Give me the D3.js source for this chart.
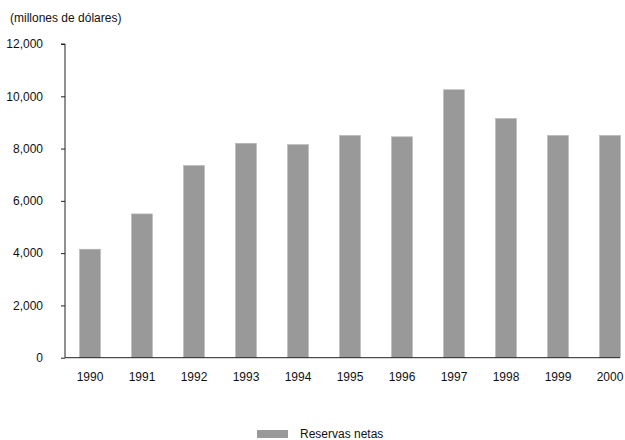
<!DOCTYPE html>
<html><head><meta charset="utf-8">
<script src="https://cdn.jsdelivr.net/npm/d3@7"></script>
<style>
body{margin:0;background:#fff;}
text{font-family:"Liberation Sans Narrow","Liberation Sans",Arial,sans-serif;fill:#111;}
</style></head>
<body><svg id="c" width="625" height="440"></svg>
<script>
const years = ["1990","1991","1992","1993","1994","1995","1996","1997","1998","1999","2000"];
const reservas = [4150,5500,7350,8200,8150,8500,8450,10250,9150,8500,8500];
const yTicks = [0,2000,4000,6000,8000,10000,12000];
const seriesName = "Reservas netas";
const unitLabel = "(millones de dólares)";

const svg = d3.select("#c");
const x = d3.scaleBand().domain(years).range([64,636]).paddingInner(0.6).paddingOuter(0.3);
const y = d3.scaleLinear().domain([0,12000]).range([357.7,44]);
const fmt = d3.format(",");

// bars
svg.append("g").selectAll("rect").data(years).join("rect")
  .attr("x", d => x(d)).attr("width", x.bandwidth())
  .attr("y", (d,i) => y(reservas[i])).attr("height", (d,i) => y(0) - y(reservas[i]))
  .attr("fill", "#999999").attr("stroke", "#b5b5b5").attr("stroke-width", 0.6);

// y axis
const ya = svg.append("g").attr("transform","translate(65,0)")
  .call(d3.axisLeft(y).tickValues(yTicks).tickFormat(fmt).tickSize(4).tickPadding(18));
ya.select(".domain").attr("stroke","#222").attr("d", `M-4,${y(12000)}H0V${y(0)}`);
ya.selectAll(".tick line").attr("stroke","#222");
ya.selectAll("text").attr("font-size","12px").style("font-family",'"Liberation Sans Narrow","Liberation Sans",Arial,sans-serif');

// x axis
const xa = svg.append("g").attr("transform",`translate(0,${y(0)})`)
  .call(d3.axisBottom(x).tickSize(0).tickPadding(15));
xa.select(".domain").attr("stroke","#222").attr("d","M65,0H620");
xa.selectAll("text").attr("font-size","12px").style("font-family",'"Liberation Sans Narrow","Liberation Sans",Arial,sans-serif');

// unit label
svg.append("text").attr("x",10).attr("y",22).attr("font-size","12px").text(unitLabel);

// legend
svg.append("rect").attr("x",257).attr("y",430).attr("width",31).attr("height",8).attr("fill","#999999");
svg.append("text").attr("x",300).attr("y",438).attr("font-size","12px").text(seriesName);
</script></body></html>
